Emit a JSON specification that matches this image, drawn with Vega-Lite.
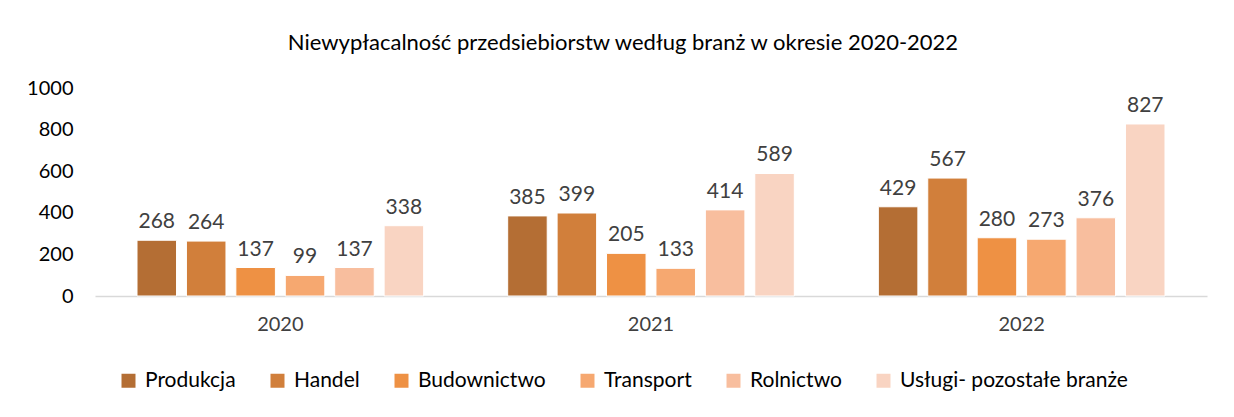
{
  "$schema": "https://vega.github.io/schema/vega-lite/v6.json",
  "autosize": "none",
  "width": 1112,
  "height": 208,
  "padding": {"left": 95, "top": 88, "right": 27, "bottom": 121},
  "background": "white",
  "config": {
    "font": "Lato",
    "view": {"stroke": null}
  },
  "title": {
    "text": "Niewypłacalność przedsiebiorstw według branż w okresie 2020-2022",
    "fontSize": 22,
    "fontWeight": "normal",
    "color": "#000000",
    "anchor": "middle",
    "dx": -28,
    "offset": 23
  },
  "data": {
    "values": [
      {"rok": "2020", "branza": "Produkcja", "wartosc": 268},
      {"rok": "2020", "branza": "Handel", "wartosc": 264},
      {"rok": "2020", "branza": "Budownictwo", "wartosc": 137},
      {"rok": "2020", "branza": "Transport", "wartosc": 99},
      {"rok": "2020", "branza": "Rolnictwo", "wartosc": 137},
      {"rok": "2020", "branza": "Usługi- pozostałe branże", "wartosc": 338},
      {"rok": "2021", "branza": "Produkcja", "wartosc": 385},
      {"rok": "2021", "branza": "Handel", "wartosc": 399},
      {"rok": "2021", "branza": "Budownictwo", "wartosc": 205},
      {"rok": "2021", "branza": "Transport", "wartosc": 133},
      {"rok": "2021", "branza": "Rolnictwo", "wartosc": 414},
      {"rok": "2021", "branza": "Usługi- pozostałe branże", "wartosc": 589},
      {"rok": "2022", "branza": "Produkcja", "wartosc": 429},
      {"rok": "2022", "branza": "Handel", "wartosc": 567},
      {"rok": "2022", "branza": "Budownictwo", "wartosc": 280},
      {"rok": "2022", "branza": "Transport", "wartosc": 273},
      {"rok": "2022", "branza": "Rolnictwo", "wartosc": 376},
      {"rok": "2022", "branza": "Usługi- pozostałe branże", "wartosc": 827}
    ]
  },
  "encoding": {
    "x": {
      "field": "rok",
      "type": "nominal",
      "scale": {"paddingInner": 0.2, "paddingOuter": 0.1},
      "axis": {
        "title": null,
        "labelAngle": 0,
        "labelFontSize": 20,
        "labelColor": "#404040",
        "labelPadding": 18,
        "ticks": false,
        "domainColor": "#d9d9d9",
        "domainWidth": 1.5
      }
    },
    "xOffset": {
      "field": "branza",
      "type": "nominal",
      "sort": ["Produkcja", "Handel", "Budownictwo", "Transport", "Rolnictwo", "Usługi- pozostałe branże"],
      "scale": {"paddingInner": 0.2, "paddingOuter": 0.1}
    },
    "y": {
      "field": "wartosc",
      "type": "quantitative",
      "scale": {"domain": [0, 1000]},
      "axis": {
        "title": null,
        "values": [0, 200, 400, 600, 800, 1000],
        "format": "d",
        "grid": false,
        "domain": false,
        "ticks": false,
        "labelFontSize": 20,
        "labelColor": "#000000",
        "labelPadding": 22
      }
    }
  },
  "layer": [
    {
      "mark": {"type": "bar", "stroke": "white", "strokeWidth": 1},
      "encoding": {
        "color": {
          "field": "branza",
          "type": "nominal",
          "sort": ["Produkcja", "Handel", "Budownictwo", "Transport", "Rolnictwo", "Usługi- pozostałe branże"],
          "scale": {
            "domain": ["Produkcja", "Handel", "Budownictwo", "Transport", "Rolnictwo", "Usługi- pozostałe branże"],
            "range": ["#b46e34", "#d17f3b", "#ee9144", "#f6a870", "#f8be9e", "#f9d4c2"]
          },
          "legend": {
            "title": null,
            "orient": "none",
            "legendX": 23,
            "legendY": 282,
            "direction": "horizontal",
            "symbolType": "square",
            "symbolSize": 196,
            "symbolStrokeWidth": 0,
            "labelFontSize": 21,
            "labelLimit": 400,
            "labelColor": "#000000",
            "labelOffset": 6,
            "columnPadding": 31
          }
        }
      }
    },
    {
      "mark": {"type": "text", "baseline": "bottom", "dy": -8, "fontSize": 21, "color": "#404040"},
      "encoding": {
        "text": {"field": "wartosc", "type": "quantitative"}
      }
    }
  ]
}
